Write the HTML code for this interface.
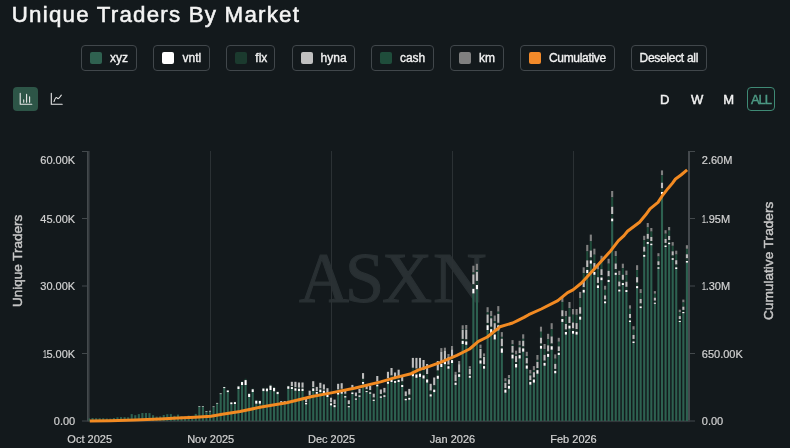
<!DOCTYPE html>
<html><head><meta charset="utf-8"><title>Unique Traders By Market</title>
<style>
html,body{margin:0;padding:0;background:#13191c;}
body{-webkit-font-smoothing:antialiased;width:790px;height:448px;position:relative;overflow:hidden;font-family:"Liberation Sans",sans-serif;color:#e6e6e6;}
.title{position:absolute;left:11.8px;top:0.6px;font-size:22.3px;line-height:28px;letter-spacing:1.22px;color:#f4f4f4;white-space:nowrap;-webkit-text-stroke:0.55px #f4f4f4;}
.lb{position:absolute;top:45.1px;height:25.6px;box-sizing:border-box;border:1px solid #41474b;border-radius:4px;}
.sw{position:absolute;top:52.2px;width:12px;height:12px;border-radius:2px;}
.lt{position:absolute;top:51px;font-size:12px;line-height:14px;color:#f2f2f2;white-space:nowrap;-webkit-text-stroke:0.35px #f2f2f2;}
.yl{position:absolute;left:0;width:75.2px;text-align:right;font-size:11px;line-height:14px;color:#d2d2d2;-webkit-text-stroke:0.2px #d2d2d2;}
.yr{position:absolute;left:701.8px;font-size:11px;line-height:14px;color:#d2d2d2;-webkit-text-stroke:0.2px #d2d2d2;}
.xl{position:absolute;top:432px;width:80px;text-align:center;font-size:11px;line-height:14px;color:#d2d2d2;white-space:nowrap;-webkit-text-stroke:0.2px #d2d2d2;}
.tf{position:absolute;top:92.5px;font-size:13px;line-height:14px;color:#f2f2f2;-webkit-text-stroke:0.45px currentColor;}
.wm{position:absolute;left:298.5px;top:237.6px;font-family:"Liberation Serif",serif;font-size:71px;line-height:80px;color:#293033;letter-spacing:-1.4px;-webkit-text-stroke:1.1px #293033;}
.at{position:absolute;font-size:13.35px;line-height:14px;color:#c6c6c6;white-space:nowrap;transform-origin:0 0;transform:rotate(-90deg);-webkit-text-stroke:0.45px #c6c6c6;}
svg{position:absolute;left:0;top:0;}
</style></head><body>
<div id="wrap" style="position:absolute;left:0;top:0;width:790px;height:448px;will-change:transform">
<div class="title">Unique Traders By Market</div>
<div class="lb" style="left:80.9px;width:56.3px"></div><div class="sw" style="left:90.2px;background:#2f6150"></div><div class="lt" style="left:110.0px;letter-spacing:0px">xyz</div><div class="lb" style="left:153.1px;width:56.5px"></div><div class="sw" style="left:161.8px;background:#ffffff"></div><div class="lt" style="left:182.6px;letter-spacing:0px">vntl</div><div class="lb" style="left:226.0px;width:49.4px"></div><div class="sw" style="left:235.3px;background:#1b3a2e"></div><div class="lt" style="left:255.3px;letter-spacing:0px">flx</div><div class="lb" style="left:291.9px;width:63.1px"></div><div class="sw" style="left:300.9px;background:#c0c0c0"></div><div class="lt" style="left:320.6px;letter-spacing:0px">hyna</div><div class="lb" style="left:370.9px;width:63.3px"></div><div class="sw" style="left:380.1px;background:#1f4d3b"></div><div class="lt" style="left:399.9px;letter-spacing:0px">cash</div><div class="lb" style="left:449.5px;width:54.7px"></div><div class="sw" style="left:459.4px;background:#808080"></div><div class="lt" style="left:479.0px;letter-spacing:0px">km</div><div class="lb" style="left:520.1px;width:95.1px"></div><div class="sw" style="left:528.7px;background:#f28a2a"></div><div class="lt" style="left:548.9px;letter-spacing:-0.3px">Cumulative</div><div class="lb" style="left:631.1px;width:76.0px"></div><div class="lt" style="left:639.6px;letter-spacing:-0.3px">Deselect all</div>
<div style="position:absolute;left:13px;top:87px;width:25px;height:24px;border-radius:4px;background:#2d5547"></div>
<div class="wm" style="left:0;letter-spacing:0"><span style="position:absolute;left:298.8px;top:0;transform-origin:0 50%;transform:scaleX(.975)">A</span><span style="position:absolute;left:345.2px;top:0;transform-origin:0 50%;transform:scaleX(.99)">S</span><span style="position:absolute;left:381.5px;top:0;transform-origin:0 50%;transform:scaleX(.978)">X</span><span style="position:absolute;left:433.2px;top:0;transform-origin:0 50%;transform:scaleX(1.047)">N</span></div>
<div class="tf" style="left:660px">D</div>
<div class="tf" style="left:691px">W</div>
<div class="tf" style="left:723.3px">M</div>
<div style="position:absolute;left:747px;top:87px;width:28px;height:23.5px;box-sizing:border-box;border:1px solid #3f8a75;border-radius:4px"></div>
<div class="tf" style="left:751px;color:#4c9883;letter-spacing:-1.1px">ALL</div>
<svg width="790" height="448" viewBox="0 0 790 448">
<!-- icons -->
<g fill="none" stroke="#e8e8e8" stroke-width="1.1" stroke-linecap="round" stroke-linejoin="round">
<path d="M20.2 93.2V104.3H31.8"/>
<path d="M23.7 99.9V102.2M26.6 94.4V102.2M29.6 96.9V102.2"/>
<path d="M51.3 93.2V104.3H62.2"/>
<path d="M54.0 101.5C54.7 99.6 55.4 97.5 56.3 97.5C57.2 97.5 57.5 98.9 58.3 98.6C59.5 98.1 60.4 96.2 61.3 95.1"/>
</g>
<rect x="210" y="151" width="1" height="270" fill="#2b3134"/><rect x="331" y="151" width="1" height="270" fill="#2b3134"/><rect x="452" y="151" width="1" height="270" fill="#2b3134"/><rect x="573" y="151" width="1" height="270" fill="#2b3134"/>
<rect x="87.1" y="151" width="1.6" height="270.3" fill="#4a4f53"/><rect x="88.7" y="151" width="0.9" height="269.5" fill="#363c3f"/>
<rect x="688" y="151" width="2" height="271" fill="#44494d"/>
<rect x="88" y="420.3" width="602" height="1.8" fill="#32383b"/>
<rect x="82" y="151.0" width="6" height="1" fill="#43494c"/><rect x="690" y="151.0" width="5" height="1" fill="#43494c"/><rect x="82" y="218.0" width="6" height="1" fill="#43494c"/><rect x="690" y="218.0" width="5" height="1" fill="#43494c"/><rect x="82" y="285.5" width="6" height="1" fill="#43494c"/><rect x="690" y="285.5" width="5" height="1" fill="#43494c"/><rect x="82" y="353.0" width="6" height="1" fill="#43494c"/><rect x="690" y="353.0" width="5" height="1" fill="#43494c"/><rect x="82" y="420.5" width="6" height="1" fill="#43494c"/><rect x="690" y="420.5" width="5" height="1" fill="#43494c"/>
<g shape-rendering="auto">
<rect x="88.60" y="418.40" width="1.45" height="2.60" fill="#2d6150"/><rect x="91.51" y="418.00" width="2.10" height="3.00" fill="#2d6150"/><rect x="95.07" y="418.20" width="2.10" height="2.80" fill="#2d6150"/><rect x="98.63" y="418.20" width="2.10" height="2.80" fill="#2d6150"/><rect x="102.19" y="418.20" width="2.10" height="2.80" fill="#2d6150"/><rect x="105.75" y="418.50" width="2.10" height="2.50" fill="#2d6150"/><rect x="109.30" y="418.60" width="2.10" height="2.40" fill="#2d6150"/><rect x="112.86" y="418.00" width="2.10" height="3.00" fill="#2d6150"/><rect x="116.42" y="417.30" width="2.10" height="3.70" fill="#2d6150"/><rect x="119.98" y="417.10" width="2.10" height="3.90" fill="#2d6150"/><rect x="123.54" y="417.10" width="2.10" height="3.90" fill="#2d6150"/><rect x="127.10" y="417.30" width="2.10" height="3.70" fill="#2d6150"/><rect x="130.66" y="414.10" width="2.10" height="6.90" fill="#2d6150"/><rect x="134.22" y="415.20" width="2.10" height="5.80" fill="#2d6150"/><rect x="137.78" y="414.10" width="2.10" height="6.90" fill="#2d6150"/><rect x="141.33" y="413.00" width="2.10" height="8.00" fill="#2d6150"/><rect x="144.89" y="413.00" width="2.10" height="8.00" fill="#2d6150"/><rect x="148.45" y="413.10" width="2.10" height="7.90" fill="#2d6150"/><rect x="152.01" y="415.20" width="2.10" height="5.80" fill="#2d6150"/><rect x="155.57" y="416.60" width="2.10" height="4.40" fill="#2d6150"/><rect x="159.13" y="416.40" width="2.10" height="4.60" fill="#2d6150"/><rect x="162.69" y="415.00" width="2.10" height="6.00" fill="#2d6150"/><rect x="166.25" y="414.20" width="2.10" height="6.80" fill="#2d6150"/><rect x="169.81" y="414.10" width="2.10" height="6.90" fill="#2d6150"/><rect x="173.37" y="415.80" width="2.10" height="5.20" fill="#2d6150"/><rect x="176.93" y="414.60" width="2.10" height="6.40" fill="#2d6150"/><rect x="180.48" y="416.20" width="2.10" height="4.80" fill="#2d6150"/><rect x="184.04" y="416.60" width="2.10" height="4.40" fill="#2d6150"/><rect x="187.60" y="415.60" width="2.10" height="5.40" fill="#2d6150"/><rect x="191.16" y="416.20" width="2.10" height="4.80" fill="#2d6150"/><rect x="194.72" y="413.90" width="2.10" height="7.10" fill="#2d6150"/><rect x="198.28" y="406.90" width="2.10" height="14.10" fill="#2d6150"/><rect x="198.28" y="406.10" width="2.10" height="0.80" fill="#b4c2bb"/><rect x="201.84" y="406.90" width="2.10" height="14.10" fill="#2d6150"/><rect x="201.84" y="406.10" width="2.10" height="0.80" fill="#b4c2bb"/><rect x="205.40" y="411.90" width="2.10" height="9.10" fill="#2d6150"/><rect x="205.40" y="411.10" width="2.10" height="0.80" fill="#b4c2bb"/><rect x="208.96" y="411.60" width="2.10" height="9.40" fill="#2d6150"/><rect x="208.96" y="410.80" width="2.10" height="0.80" fill="#b4c2bb"/><rect x="212.51" y="407.10" width="2.10" height="13.90" fill="#2d6150"/><rect x="212.51" y="406.30" width="2.10" height="0.80" fill="#b4c2bb"/><rect x="216.07" y="403.80" width="2.10" height="17.20" fill="#2d6150"/><rect x="216.07" y="402.90" width="2.10" height="0.90" fill="#b4c2bb"/><rect x="219.63" y="394.20" width="2.10" height="26.80" fill="#2d6150"/><rect x="219.63" y="393.20" width="2.10" height="1.00" fill="#b4c2bb"/><rect x="223.19" y="388.10" width="2.10" height="32.90" fill="#2d6150"/><rect x="223.19" y="386.80" width="2.10" height="0.29" fill="#1a3a2e"/><rect x="223.19" y="387.09" width="2.10" height="1.01" fill="#ffffff"/><rect x="226.75" y="392.10" width="2.10" height="28.90" fill="#2d6150"/><rect x="226.75" y="390.00" width="2.10" height="0.46" fill="#1a3a2e"/><rect x="226.75" y="390.46" width="2.10" height="1.64" fill="#ffffff"/><rect x="230.31" y="404.20" width="2.10" height="16.80" fill="#2d6150"/><rect x="230.31" y="401.90" width="2.10" height="0.51" fill="#1a3a2e"/><rect x="230.31" y="402.41" width="2.10" height="1.79" fill="#ffffff"/><rect x="233.87" y="404.00" width="2.10" height="17.00" fill="#2d6150"/><rect x="233.87" y="401.60" width="2.10" height="0.53" fill="#1a3a2e"/><rect x="233.87" y="402.13" width="2.10" height="1.87" fill="#ffffff"/><rect x="237.43" y="389.00" width="2.10" height="32.00" fill="#2d6150"/><rect x="237.43" y="385.70" width="2.10" height="0.73" fill="#1a3a2e"/><rect x="237.43" y="386.43" width="2.10" height="2.57" fill="#ffffff"/><rect x="240.99" y="385.00" width="2.10" height="36.00" fill="#2d6150"/><rect x="240.99" y="381.20" width="2.10" height="0.84" fill="#1a3a2e"/><rect x="240.99" y="382.04" width="2.10" height="2.96" fill="#ffffff"/><rect x="244.55" y="385.00" width="2.10" height="36.00" fill="#2d6150"/><rect x="244.55" y="378.70" width="2.10" height="1.39" fill="#1a3a2e"/><rect x="244.55" y="380.09" width="2.10" height="4.91" fill="#ffffff"/><rect x="248.10" y="397.00" width="2.10" height="24.00" fill="#2d6150"/><rect x="248.10" y="393.00" width="2.10" height="0.88" fill="#1a3a2e"/><rect x="248.10" y="393.88" width="2.10" height="3.12" fill="#ffffff"/><rect x="251.66" y="392.00" width="2.10" height="29.00" fill="#2d6150"/><rect x="251.66" y="388.50" width="2.10" height="0.77" fill="#1a3a2e"/><rect x="251.66" y="389.27" width="2.10" height="2.73" fill="#ffffff"/><rect x="255.22" y="403.70" width="2.10" height="17.30" fill="#2d6150"/><rect x="255.22" y="399.90" width="2.10" height="0.84" fill="#1a3a2e"/><rect x="255.22" y="400.74" width="2.10" height="2.96" fill="#ffffff"/><rect x="258.78" y="403.70" width="2.10" height="17.30" fill="#2d6150"/><rect x="258.78" y="400.20" width="2.10" height="0.77" fill="#1a3a2e"/><rect x="258.78" y="400.97" width="2.10" height="2.73" fill="#ffffff"/><rect x="262.34" y="391.10" width="2.10" height="29.90" fill="#2d6150"/><rect x="262.34" y="387.80" width="2.10" height="0.73" fill="#1a3a2e"/><rect x="262.34" y="388.53" width="2.10" height="2.57" fill="#ffffff"/><rect x="265.90" y="391.30" width="2.10" height="29.70" fill="#2d6150"/><rect x="265.90" y="387.80" width="2.10" height="0.77" fill="#1a3a2e"/><rect x="265.90" y="388.57" width="2.10" height="2.73" fill="#ffffff"/><rect x="269.46" y="390.00" width="2.10" height="31.00" fill="#2d6150"/><rect x="269.46" y="384.40" width="2.10" height="1.23" fill="#1a3a2e"/><rect x="269.46" y="385.63" width="2.10" height="4.37" fill="#ffffff"/><rect x="273.02" y="391.30" width="2.10" height="29.70" fill="#2d6150"/><rect x="273.02" y="386.90" width="2.10" height="0.97" fill="#1a3a2e"/><rect x="273.02" y="387.87" width="2.10" height="3.43" fill="#ffffff"/><rect x="276.58" y="394.10" width="2.10" height="26.90" fill="#2d6150"/><rect x="276.58" y="391.30" width="2.10" height="0.62" fill="#1a3a2e"/><rect x="276.58" y="391.92" width="2.10" height="2.18" fill="#ffffff"/><rect x="280.14" y="402.50" width="2.10" height="18.50" fill="#2d6150"/><rect x="280.14" y="401.00" width="2.10" height="0.33" fill="#1a3a2e"/><rect x="280.14" y="401.33" width="2.10" height="1.17" fill="#ffffff"/><rect x="283.69" y="402.50" width="2.10" height="18.50" fill="#2d6150"/><rect x="283.69" y="401.00" width="2.10" height="0.33" fill="#1a3a2e"/><rect x="283.69" y="401.33" width="2.10" height="1.17" fill="#ffffff"/><rect x="287.25" y="388.80" width="2.10" height="32.20" fill="#2d6150"/><rect x="287.25" y="385.60" width="2.10" height="0.70" fill="#1a3a2e"/><rect x="287.25" y="386.30" width="2.10" height="2.50" fill="#ffffff"/><rect x="290.81" y="389.00" width="2.10" height="32.00" fill="#2d6150"/><rect x="290.81" y="381.80" width="2.10" height="4.46" fill="#bdbdbd"/><rect x="290.81" y="386.26" width="2.10" height="0.79" fill="#1a3a2e"/><rect x="290.81" y="387.06" width="2.10" height="1.94" fill="#ffffff"/><rect x="294.37" y="390.70" width="2.10" height="30.30" fill="#2d6150"/><rect x="294.37" y="381.80" width="2.10" height="5.52" fill="#bdbdbd"/><rect x="294.37" y="387.32" width="2.10" height="0.98" fill="#1a3a2e"/><rect x="294.37" y="388.30" width="2.10" height="2.40" fill="#ffffff"/><rect x="297.93" y="391.00" width="2.10" height="30.00" fill="#2d6150"/><rect x="297.93" y="382.50" width="2.10" height="5.27" fill="#bdbdbd"/><rect x="297.93" y="387.77" width="2.10" height="0.94" fill="#1a3a2e"/><rect x="297.93" y="388.70" width="2.10" height="2.29" fill="#ffffff"/><rect x="301.49" y="391.00" width="2.10" height="30.00" fill="#2d6150"/><rect x="301.49" y="382.50" width="2.10" height="5.27" fill="#bdbdbd"/><rect x="301.49" y="387.77" width="2.10" height="0.94" fill="#1a3a2e"/><rect x="301.49" y="388.70" width="2.10" height="2.29" fill="#ffffff"/><rect x="305.05" y="404.40" width="2.10" height="16.60" fill="#2d6150"/><rect x="305.05" y="398.70" width="2.10" height="3.53" fill="#bdbdbd"/><rect x="305.05" y="402.23" width="2.10" height="0.63" fill="#1a3a2e"/><rect x="305.05" y="402.86" width="2.10" height="1.54" fill="#ffffff"/><rect x="308.61" y="397.60" width="2.10" height="23.40" fill="#2d6150"/><rect x="308.61" y="390.70" width="2.10" height="4.28" fill="#bdbdbd"/><rect x="308.61" y="394.98" width="2.10" height="0.76" fill="#1a3a2e"/><rect x="308.61" y="395.74" width="2.10" height="1.86" fill="#ffffff"/><rect x="312.17" y="391.00" width="2.10" height="30.00" fill="#2d6150"/><rect x="312.17" y="381.20" width="2.10" height="6.08" fill="#bdbdbd"/><rect x="312.17" y="387.28" width="2.10" height="1.08" fill="#1a3a2e"/><rect x="312.17" y="388.35" width="2.10" height="2.65" fill="#ffffff"/><rect x="315.73" y="393.80" width="2.10" height="27.20" fill="#2d6150"/><rect x="315.73" y="386.90" width="2.10" height="4.28" fill="#bdbdbd"/><rect x="315.73" y="391.18" width="2.10" height="0.76" fill="#1a3a2e"/><rect x="315.73" y="391.94" width="2.10" height="1.86" fill="#ffffff"/><rect x="319.29" y="392.00" width="2.10" height="29.00" fill="#2d6150"/><rect x="319.29" y="382.80" width="2.10" height="5.70" fill="#bdbdbd"/><rect x="319.29" y="388.50" width="2.10" height="1.01" fill="#1a3a2e"/><rect x="319.29" y="389.52" width="2.10" height="2.48" fill="#ffffff"/><rect x="322.84" y="393.00" width="2.10" height="28.00" fill="#2d6150"/><rect x="322.84" y="384.40" width="2.10" height="5.33" fill="#bdbdbd"/><rect x="322.84" y="389.73" width="2.10" height="0.95" fill="#1a3a2e"/><rect x="322.84" y="390.68" width="2.10" height="2.32" fill="#ffffff"/><rect x="326.40" y="397.00" width="2.10" height="24.00" fill="#2d6150"/><rect x="326.40" y="388.20" width="2.10" height="5.46" fill="#bdbdbd"/><rect x="326.40" y="393.66" width="2.10" height="0.97" fill="#1a3a2e"/><rect x="326.40" y="394.62" width="2.10" height="2.38" fill="#ffffff"/><rect x="329.96" y="405.40" width="2.10" height="15.60" fill="#2d6150"/><rect x="329.96" y="397.70" width="2.10" height="4.77" fill="#bdbdbd"/><rect x="329.96" y="402.47" width="2.10" height="0.85" fill="#1a3a2e"/><rect x="329.96" y="403.32" width="2.10" height="2.08" fill="#ffffff"/><rect x="333.52" y="407.20" width="2.10" height="13.80" fill="#2d6150"/><rect x="333.52" y="399.60" width="2.10" height="4.71" fill="#bdbdbd"/><rect x="333.52" y="404.31" width="2.10" height="0.84" fill="#1a3a2e"/><rect x="333.52" y="405.15" width="2.10" height="2.05" fill="#ffffff"/><rect x="337.08" y="394.60" width="2.10" height="26.40" fill="#2d6150"/><rect x="337.08" y="383.80" width="2.10" height="5.83" fill="#bdbdbd"/><rect x="337.08" y="389.63" width="2.10" height="3.13" fill="#1a3a2e"/><rect x="337.08" y="392.76" width="2.10" height="1.84" fill="#ffffff"/><rect x="340.64" y="393.70" width="2.10" height="27.30" fill="#2d6150"/><rect x="340.64" y="383.20" width="2.10" height="5.67" fill="#bdbdbd"/><rect x="340.64" y="388.87" width="2.10" height="3.04" fill="#1a3a2e"/><rect x="340.64" y="391.92" width="2.10" height="1.79" fill="#ffffff"/><rect x="344.20" y="397.50" width="2.10" height="23.50" fill="#2d6150"/><rect x="344.20" y="389.50" width="2.10" height="4.32" fill="#bdbdbd"/><rect x="344.20" y="393.82" width="2.10" height="2.32" fill="#1a3a2e"/><rect x="344.20" y="396.14" width="2.10" height="1.36" fill="#ffffff"/><rect x="347.76" y="407.30" width="2.10" height="13.70" fill="#2d6150"/><rect x="347.76" y="400.30" width="2.10" height="3.78" fill="#bdbdbd"/><rect x="347.76" y="404.08" width="2.10" height="2.03" fill="#1a3a2e"/><rect x="347.76" y="406.11" width="2.10" height="1.19" fill="#ffffff"/><rect x="351.32" y="394.00" width="2.10" height="27.00" fill="#2d6150"/><rect x="351.32" y="384.90" width="2.10" height="4.91" fill="#bdbdbd"/><rect x="351.32" y="389.81" width="2.10" height="2.64" fill="#1a3a2e"/><rect x="351.32" y="392.45" width="2.10" height="1.55" fill="#ffffff"/><rect x="354.88" y="399.70" width="2.10" height="21.30" fill="#2d6150"/><rect x="354.88" y="392.50" width="2.10" height="3.89" fill="#bdbdbd"/><rect x="354.88" y="396.39" width="2.10" height="2.09" fill="#1a3a2e"/><rect x="354.88" y="398.48" width="2.10" height="1.22" fill="#ffffff"/><rect x="358.43" y="396.80" width="2.10" height="24.20" fill="#2d6150"/><rect x="358.43" y="388.90" width="2.10" height="4.27" fill="#bdbdbd"/><rect x="358.43" y="393.17" width="2.10" height="2.29" fill="#1a3a2e"/><rect x="358.43" y="395.46" width="2.10" height="1.34" fill="#ffffff"/><rect x="361.99" y="383.80" width="2.10" height="37.20" fill="#2d6150"/><rect x="361.99" y="373.10" width="2.10" height="5.78" fill="#bdbdbd"/><rect x="361.99" y="378.88" width="2.10" height="3.10" fill="#1a3a2e"/><rect x="361.99" y="381.98" width="2.10" height="1.82" fill="#ffffff"/><rect x="365.55" y="392.10" width="2.10" height="28.90" fill="#2d6150"/><rect x="365.55" y="386.00" width="2.10" height="3.29" fill="#bdbdbd"/><rect x="365.55" y="389.29" width="2.10" height="1.77" fill="#1a3a2e"/><rect x="365.55" y="391.06" width="2.10" height="1.04" fill="#ffffff"/><rect x="369.11" y="393.70" width="2.10" height="27.30" fill="#2d6150"/><rect x="369.11" y="386.00" width="2.10" height="4.16" fill="#bdbdbd"/><rect x="369.11" y="390.16" width="2.10" height="2.23" fill="#1a3a2e"/><rect x="369.11" y="392.39" width="2.10" height="1.31" fill="#ffffff"/><rect x="372.67" y="400.90" width="2.10" height="20.10" fill="#2d6150"/><rect x="372.67" y="393.70" width="2.10" height="3.89" fill="#bdbdbd"/><rect x="372.67" y="397.59" width="2.10" height="2.09" fill="#1a3a2e"/><rect x="372.67" y="399.68" width="2.10" height="1.22" fill="#ffffff"/><rect x="376.23" y="386.40" width="2.10" height="34.60" fill="#2d6150"/><rect x="376.23" y="376.00" width="2.10" height="5.62" fill="#bdbdbd"/><rect x="376.23" y="381.62" width="2.10" height="3.02" fill="#1a3a2e"/><rect x="376.23" y="384.63" width="2.10" height="1.77" fill="#ffffff"/><rect x="379.79" y="397.80" width="2.10" height="23.20" fill="#2d6150"/><rect x="379.79" y="389.50" width="2.10" height="4.48" fill="#bdbdbd"/><rect x="379.79" y="393.98" width="2.10" height="2.41" fill="#1a3a2e"/><rect x="379.79" y="396.39" width="2.10" height="1.41" fill="#ffffff"/><rect x="383.35" y="396.80" width="2.10" height="24.20" fill="#2d6150"/><rect x="383.35" y="387.90" width="2.10" height="4.81" fill="#bdbdbd"/><rect x="383.35" y="392.71" width="2.10" height="2.58" fill="#1a3a2e"/><rect x="383.35" y="395.29" width="2.10" height="1.51" fill="#ffffff"/><rect x="386.91" y="383.80" width="2.10" height="37.20" fill="#2d6150"/><rect x="386.91" y="371.80" width="2.10" height="6.48" fill="#bdbdbd"/><rect x="386.91" y="378.28" width="2.10" height="3.48" fill="#1a3a2e"/><rect x="386.91" y="381.76" width="2.10" height="2.04" fill="#ffffff"/><rect x="390.46" y="382.00" width="2.10" height="39.00" fill="#2d6150"/><rect x="390.46" y="368.00" width="2.10" height="7.56" fill="#bdbdbd"/><rect x="390.46" y="375.56" width="2.10" height="4.06" fill="#1a3a2e"/><rect x="390.46" y="379.62" width="2.10" height="2.38" fill="#ffffff"/><rect x="394.02" y="382.80" width="2.10" height="38.20" fill="#2d6150"/><rect x="394.02" y="372.50" width="2.10" height="5.56" fill="#bdbdbd"/><rect x="394.02" y="378.06" width="2.10" height="2.99" fill="#1a3a2e"/><rect x="394.02" y="381.05" width="2.10" height="1.75" fill="#ffffff"/><rect x="397.58" y="382.00" width="2.10" height="39.00" fill="#2d6150"/><rect x="397.58" y="369.70" width="2.10" height="6.64" fill="#bdbdbd"/><rect x="397.58" y="376.34" width="2.10" height="3.57" fill="#1a3a2e"/><rect x="397.58" y="379.91" width="2.10" height="2.09" fill="#ffffff"/><rect x="401.14" y="387.00" width="2.10" height="34.00" fill="#2d6150"/><rect x="401.14" y="375.00" width="2.10" height="6.48" fill="#bdbdbd"/><rect x="401.14" y="381.48" width="2.10" height="3.48" fill="#1a3a2e"/><rect x="401.14" y="384.96" width="2.10" height="2.04" fill="#ffffff"/><rect x="404.70" y="400.30" width="2.10" height="20.70" fill="#2d6150"/><rect x="404.70" y="391.40" width="2.10" height="4.81" fill="#bdbdbd"/><rect x="404.70" y="396.21" width="2.10" height="2.58" fill="#1a3a2e"/><rect x="404.70" y="398.79" width="2.10" height="1.51" fill="#ffffff"/><rect x="408.26" y="399.70" width="2.10" height="21.30" fill="#2d6150"/><rect x="408.26" y="388.90" width="2.10" height="5.83" fill="#bdbdbd"/><rect x="408.26" y="394.73" width="2.10" height="3.13" fill="#1a3a2e"/><rect x="408.26" y="397.86" width="2.10" height="1.84" fill="#ffffff"/><rect x="411.82" y="376.30" width="2.10" height="44.70" fill="#2d6150"/><rect x="411.82" y="357.90" width="2.10" height="9.94" fill="#bdbdbd"/><rect x="411.82" y="367.84" width="2.10" height="5.34" fill="#1a3a2e"/><rect x="411.82" y="373.17" width="2.10" height="3.13" fill="#ffffff"/><rect x="415.38" y="377.80" width="2.10" height="43.20" fill="#2d6150"/><rect x="415.38" y="357.90" width="2.10" height="10.75" fill="#bdbdbd"/><rect x="415.38" y="368.65" width="2.10" height="5.77" fill="#1a3a2e"/><rect x="415.38" y="374.42" width="2.10" height="3.38" fill="#ffffff"/><rect x="418.94" y="376.90" width="2.10" height="44.10" fill="#2d6150"/><rect x="418.94" y="357.90" width="2.10" height="10.26" fill="#bdbdbd"/><rect x="418.94" y="368.16" width="2.10" height="5.51" fill="#1a3a2e"/><rect x="418.94" y="373.67" width="2.10" height="3.23" fill="#ffffff"/><rect x="422.50" y="378.50" width="2.10" height="42.50" fill="#2d6150"/><rect x="422.50" y="360.00" width="2.10" height="9.99" fill="#bdbdbd"/><rect x="422.50" y="369.99" width="2.10" height="5.36" fill="#1a3a2e"/><rect x="422.50" y="375.36" width="2.10" height="3.15" fill="#ffffff"/><rect x="426.06" y="382.60" width="2.10" height="38.40" fill="#2d6150"/><rect x="426.06" y="364.00" width="2.10" height="10.04" fill="#bdbdbd"/><rect x="426.06" y="374.04" width="2.10" height="5.39" fill="#1a3a2e"/><rect x="426.06" y="379.44" width="2.10" height="3.16" fill="#ffffff"/><rect x="429.61" y="396.50" width="2.10" height="24.50" fill="#2d6150"/><rect x="429.61" y="383.80" width="2.10" height="6.86" fill="#bdbdbd"/><rect x="429.61" y="390.66" width="2.10" height="3.68" fill="#1a3a2e"/><rect x="429.61" y="394.34" width="2.10" height="2.16" fill="#ffffff"/><rect x="433.17" y="392.10" width="2.10" height="28.90" fill="#2d6150"/><rect x="433.17" y="377.50" width="2.10" height="7.88" fill="#bdbdbd"/><rect x="433.17" y="385.38" width="2.10" height="4.23" fill="#1a3a2e"/><rect x="433.17" y="389.62" width="2.10" height="2.48" fill="#ffffff"/><rect x="436.73" y="378.80" width="2.10" height="42.20" fill="#2d6150"/><rect x="436.73" y="361.00" width="2.10" height="9.61" fill="#bdbdbd"/><rect x="436.73" y="370.61" width="2.10" height="5.16" fill="#1a3a2e"/><rect x="436.73" y="375.77" width="2.10" height="3.03" fill="#ffffff"/><rect x="440.29" y="367.00" width="2.10" height="54.00" fill="#2d6150"/><rect x="440.29" y="348.10" width="2.10" height="3.78" fill="#808080"/><rect x="440.29" y="351.88" width="2.10" height="10.02" fill="#bdbdbd"/><rect x="440.29" y="361.90" width="2.10" height="1.89" fill="#1a3a2e"/><rect x="440.29" y="363.79" width="2.10" height="3.21" fill="#ffffff"/><rect x="443.85" y="364.20" width="2.10" height="56.80" fill="#2d6150"/><rect x="443.85" y="347.70" width="2.10" height="3.30" fill="#808080"/><rect x="443.85" y="351.00" width="2.10" height="8.75" fill="#bdbdbd"/><rect x="443.85" y="359.75" width="2.10" height="1.65" fill="#1a3a2e"/><rect x="443.85" y="361.39" width="2.10" height="2.81" fill="#ffffff"/><rect x="447.41" y="368.70" width="2.10" height="52.30" fill="#2d6150"/><rect x="447.41" y="354.00" width="2.10" height="2.94" fill="#808080"/><rect x="447.41" y="356.94" width="2.10" height="7.79" fill="#bdbdbd"/><rect x="447.41" y="364.73" width="2.10" height="1.47" fill="#1a3a2e"/><rect x="447.41" y="366.20" width="2.10" height="2.50" fill="#ffffff"/><rect x="450.97" y="363.00" width="2.10" height="58.00" fill="#2d6150"/><rect x="450.97" y="346.00" width="2.10" height="3.40" fill="#808080"/><rect x="450.97" y="349.40" width="2.10" height="9.01" fill="#bdbdbd"/><rect x="450.97" y="358.41" width="2.10" height="1.70" fill="#1a3a2e"/><rect x="450.97" y="360.11" width="2.10" height="2.89" fill="#ffffff"/><rect x="454.53" y="384.90" width="2.10" height="36.10" fill="#2d6150"/><rect x="454.53" y="371.80" width="2.10" height="2.62" fill="#808080"/><rect x="454.53" y="374.42" width="2.10" height="6.94" fill="#bdbdbd"/><rect x="454.53" y="381.36" width="2.10" height="1.31" fill="#1a3a2e"/><rect x="454.53" y="382.67" width="2.10" height="2.23" fill="#ffffff"/><rect x="458.09" y="376.90" width="2.10" height="44.10" fill="#2d6150"/><rect x="458.09" y="361.00" width="2.10" height="3.18" fill="#808080"/><rect x="458.09" y="364.18" width="2.10" height="8.43" fill="#bdbdbd"/><rect x="458.09" y="372.61" width="2.10" height="1.59" fill="#1a3a2e"/><rect x="458.09" y="374.20" width="2.10" height="2.70" fill="#ffffff"/><rect x="461.64" y="344.00" width="2.10" height="77.00" fill="#2d6150"/><rect x="461.64" y="325.30" width="2.10" height="3.74" fill="#808080"/><rect x="461.64" y="329.04" width="2.10" height="0.56" fill="#1f4b3a"/><rect x="461.64" y="329.60" width="2.10" height="9.35" fill="#bdbdbd"/><rect x="461.64" y="338.95" width="2.10" height="1.87" fill="#1a3a2e"/><rect x="461.64" y="340.82" width="2.10" height="3.18" fill="#ffffff"/><rect x="465.20" y="344.80" width="2.10" height="76.20" fill="#2d6150"/><rect x="465.20" y="325.00" width="2.10" height="3.96" fill="#808080"/><rect x="465.20" y="328.96" width="2.10" height="0.59" fill="#1f4b3a"/><rect x="465.20" y="329.55" width="2.10" height="9.90" fill="#bdbdbd"/><rect x="465.20" y="339.45" width="2.10" height="1.98" fill="#1a3a2e"/><rect x="465.20" y="341.43" width="2.10" height="3.37" fill="#ffffff"/><rect x="468.76" y="377.80" width="2.10" height="43.20" fill="#2d6150"/><rect x="468.76" y="366.10" width="2.10" height="2.34" fill="#808080"/><rect x="468.76" y="368.44" width="2.10" height="0.35" fill="#1f4b3a"/><rect x="468.76" y="368.79" width="2.10" height="5.85" fill="#bdbdbd"/><rect x="468.76" y="374.64" width="2.10" height="1.17" fill="#1a3a2e"/><rect x="468.76" y="375.81" width="2.10" height="1.99" fill="#ffffff"/><rect x="472.32" y="293.40" width="2.10" height="127.60" fill="#2d6150"/><rect x="472.32" y="265.70" width="2.10" height="6.79" fill="#808080"/><rect x="472.32" y="272.49" width="2.10" height="1.94" fill="#1f4b3a"/><rect x="472.32" y="274.43" width="2.10" height="9.97" fill="#bdbdbd"/><rect x="472.32" y="284.40" width="2.10" height="4.43" fill="#1a3a2e"/><rect x="472.32" y="288.83" width="2.10" height="4.57" fill="#ffffff"/><rect x="475.88" y="289.20" width="2.10" height="131.80" fill="#2d6150"/><rect x="475.88" y="263.80" width="2.10" height="6.22" fill="#808080"/><rect x="475.88" y="270.02" width="2.10" height="1.78" fill="#1f4b3a"/><rect x="475.88" y="271.80" width="2.10" height="9.14" fill="#bdbdbd"/><rect x="475.88" y="280.95" width="2.10" height="4.06" fill="#1a3a2e"/><rect x="475.88" y="285.01" width="2.10" height="4.19" fill="#ffffff"/><rect x="479.44" y="363.60" width="2.10" height="57.40" fill="#2d6150"/><rect x="479.44" y="344.60" width="2.10" height="3.80" fill="#808080"/><rect x="479.44" y="348.40" width="2.10" height="0.57" fill="#1f4b3a"/><rect x="479.44" y="348.97" width="2.10" height="9.50" fill="#bdbdbd"/><rect x="479.44" y="358.47" width="2.10" height="1.90" fill="#1a3a2e"/><rect x="479.44" y="360.37" width="2.10" height="3.23" fill="#ffffff"/><rect x="483.00" y="368.70" width="2.10" height="52.30" fill="#2d6150"/><rect x="483.00" y="353.40" width="2.10" height="3.06" fill="#808080"/><rect x="483.00" y="356.46" width="2.10" height="0.46" fill="#1f4b3a"/><rect x="483.00" y="356.92" width="2.10" height="7.65" fill="#bdbdbd"/><rect x="483.00" y="364.57" width="2.10" height="1.53" fill="#1a3a2e"/><rect x="483.00" y="366.10" width="2.10" height="2.60" fill="#ffffff"/><rect x="486.56" y="330.00" width="2.10" height="91.00" fill="#2d6150"/><rect x="486.56" y="307.20" width="2.10" height="5.24" fill="#808080"/><rect x="486.56" y="312.44" width="2.10" height="2.05" fill="#1f4b3a"/><rect x="486.56" y="314.50" width="2.10" height="8.44" fill="#bdbdbd"/><rect x="486.56" y="322.93" width="2.10" height="2.28" fill="#1a3a2e"/><rect x="486.56" y="325.21" width="2.10" height="4.79" fill="#ffffff"/><rect x="490.12" y="334.00" width="2.10" height="87.00" fill="#2d6150"/><rect x="490.12" y="310.90" width="2.10" height="5.31" fill="#808080"/><rect x="490.12" y="316.21" width="2.10" height="2.08" fill="#1f4b3a"/><rect x="490.12" y="318.29" width="2.10" height="8.55" fill="#bdbdbd"/><rect x="490.12" y="326.84" width="2.10" height="2.31" fill="#1a3a2e"/><rect x="490.12" y="329.15" width="2.10" height="4.85" fill="#ffffff"/><rect x="493.68" y="339.50" width="2.10" height="81.50" fill="#2d6150"/><rect x="493.68" y="315.50" width="2.10" height="5.52" fill="#808080"/><rect x="493.68" y="321.02" width="2.10" height="2.16" fill="#1f4b3a"/><rect x="493.68" y="323.18" width="2.10" height="8.88" fill="#bdbdbd"/><rect x="493.68" y="332.06" width="2.10" height="2.40" fill="#1a3a2e"/><rect x="493.68" y="334.46" width="2.10" height="5.04" fill="#ffffff"/><rect x="497.24" y="330.40" width="2.10" height="90.60" fill="#2d6150"/><rect x="497.24" y="306.10" width="2.10" height="5.59" fill="#808080"/><rect x="497.24" y="311.69" width="2.10" height="2.19" fill="#1f4b3a"/><rect x="497.24" y="313.88" width="2.10" height="8.99" fill="#bdbdbd"/><rect x="497.24" y="322.87" width="2.10" height="2.43" fill="#1a3a2e"/><rect x="497.24" y="325.30" width="2.10" height="5.10" fill="#ffffff"/><rect x="500.79" y="352.80" width="2.10" height="68.20" fill="#2d6150"/><rect x="500.79" y="332.10" width="2.10" height="4.76" fill="#808080"/><rect x="500.79" y="336.86" width="2.10" height="1.86" fill="#1f4b3a"/><rect x="500.79" y="338.72" width="2.10" height="7.66" fill="#bdbdbd"/><rect x="500.79" y="346.38" width="2.10" height="2.07" fill="#1a3a2e"/><rect x="500.79" y="348.45" width="2.10" height="4.35" fill="#ffffff"/><rect x="504.35" y="392.70" width="2.10" height="28.30" fill="#2d6150"/><rect x="504.35" y="378.20" width="2.10" height="3.33" fill="#808080"/><rect x="504.35" y="381.53" width="2.10" height="1.30" fill="#1f4b3a"/><rect x="504.35" y="382.84" width="2.10" height="5.37" fill="#bdbdbd"/><rect x="504.35" y="388.20" width="2.10" height="1.45" fill="#1a3a2e"/><rect x="504.35" y="389.65" width="2.10" height="3.04" fill="#ffffff"/><rect x="507.91" y="388.70" width="2.10" height="32.30" fill="#2d6150"/><rect x="507.91" y="375.00" width="2.10" height="3.15" fill="#808080"/><rect x="507.91" y="378.15" width="2.10" height="1.23" fill="#1f4b3a"/><rect x="507.91" y="379.38" width="2.10" height="5.07" fill="#bdbdbd"/><rect x="507.91" y="384.45" width="2.10" height="1.37" fill="#1a3a2e"/><rect x="507.91" y="385.82" width="2.10" height="2.88" fill="#ffffff"/><rect x="511.47" y="358.50" width="2.10" height="62.50" fill="#2d6150"/><rect x="511.47" y="340.10" width="2.10" height="4.23" fill="#808080"/><rect x="511.47" y="344.33" width="2.10" height="1.66" fill="#1f4b3a"/><rect x="511.47" y="345.99" width="2.10" height="6.81" fill="#bdbdbd"/><rect x="511.47" y="352.80" width="2.10" height="1.84" fill="#1a3a2e"/><rect x="511.47" y="354.64" width="2.10" height="3.86" fill="#ffffff"/><rect x="515.03" y="367.50" width="2.10" height="53.50" fill="#2d6150"/><rect x="515.03" y="350.70" width="2.10" height="3.86" fill="#808080"/><rect x="515.03" y="354.56" width="2.10" height="1.51" fill="#1f4b3a"/><rect x="515.03" y="356.08" width="2.10" height="6.22" fill="#bdbdbd"/><rect x="515.03" y="362.29" width="2.10" height="1.68" fill="#1a3a2e"/><rect x="515.03" y="363.97" width="2.10" height="3.53" fill="#ffffff"/><rect x="518.59" y="358.50" width="2.10" height="62.50" fill="#2d6150"/><rect x="518.59" y="340.80" width="2.10" height="4.60" fill="#808080"/><rect x="518.59" y="345.40" width="2.10" height="1.95" fill="#1f4b3a"/><rect x="518.59" y="347.35" width="2.10" height="5.84" fill="#bdbdbd"/><rect x="518.59" y="353.19" width="2.10" height="1.95" fill="#1a3a2e"/><rect x="518.59" y="355.14" width="2.10" height="3.36" fill="#ffffff"/><rect x="522.15" y="351.70" width="2.10" height="69.30" fill="#2d6150"/><rect x="522.15" y="334.30" width="2.10" height="4.52" fill="#808080"/><rect x="522.15" y="338.82" width="2.10" height="1.91" fill="#1f4b3a"/><rect x="522.15" y="340.74" width="2.10" height="5.74" fill="#bdbdbd"/><rect x="522.15" y="346.48" width="2.10" height="1.91" fill="#1a3a2e"/><rect x="522.15" y="348.39" width="2.10" height="3.31" fill="#ffffff"/><rect x="525.71" y="368.70" width="2.10" height="52.30" fill="#2d6150"/><rect x="525.71" y="351.80" width="2.10" height="4.39" fill="#808080"/><rect x="525.71" y="356.19" width="2.10" height="1.86" fill="#1f4b3a"/><rect x="525.71" y="358.05" width="2.10" height="5.58" fill="#bdbdbd"/><rect x="525.71" y="363.63" width="2.10" height="1.86" fill="#1a3a2e"/><rect x="525.71" y="365.49" width="2.10" height="3.21" fill="#ffffff"/><rect x="529.27" y="384.70" width="2.10" height="36.30" fill="#2d6150"/><rect x="529.27" y="369.90" width="2.10" height="3.85" fill="#808080"/><rect x="529.27" y="373.75" width="2.10" height="1.63" fill="#1f4b3a"/><rect x="529.27" y="375.38" width="2.10" height="4.88" fill="#bdbdbd"/><rect x="529.27" y="380.26" width="2.10" height="1.63" fill="#1a3a2e"/><rect x="529.27" y="381.89" width="2.10" height="2.81" fill="#ffffff"/><rect x="532.83" y="382.60" width="2.10" height="38.40" fill="#2d6150"/><rect x="532.83" y="366.10" width="2.10" height="4.29" fill="#808080"/><rect x="532.83" y="370.39" width="2.10" height="1.81" fill="#1f4b3a"/><rect x="532.83" y="372.21" width="2.10" height="5.45" fill="#bdbdbd"/><rect x="532.83" y="377.65" width="2.10" height="1.81" fill="#1a3a2e"/><rect x="532.83" y="379.47" width="2.10" height="3.14" fill="#ffffff"/><rect x="536.38" y="373.70" width="2.10" height="47.30" fill="#2d6150"/><rect x="536.38" y="355.00" width="2.10" height="4.86" fill="#808080"/><rect x="536.38" y="359.86" width="2.10" height="2.06" fill="#1f4b3a"/><rect x="536.38" y="361.92" width="2.10" height="6.17" fill="#bdbdbd"/><rect x="536.38" y="368.09" width="2.10" height="2.06" fill="#1a3a2e"/><rect x="536.38" y="370.15" width="2.10" height="3.55" fill="#ffffff"/><rect x="539.94" y="348.70" width="2.10" height="72.30" fill="#2d6150"/><rect x="539.94" y="326.70" width="2.10" height="5.06" fill="#808080"/><rect x="539.94" y="331.76" width="2.10" height="5.94" fill="#1f4b3a"/><rect x="539.94" y="337.70" width="2.10" height="5.94" fill="#bdbdbd"/><rect x="539.94" y="343.64" width="2.10" height="2.20" fill="#1a3a2e"/><rect x="539.94" y="345.84" width="2.10" height="2.86" fill="#ffffff"/><rect x="543.50" y="365.70" width="2.10" height="55.30" fill="#2d6150"/><rect x="543.50" y="344.00" width="2.10" height="4.99" fill="#808080"/><rect x="543.50" y="348.99" width="2.10" height="5.86" fill="#1f4b3a"/><rect x="543.50" y="354.85" width="2.10" height="5.86" fill="#bdbdbd"/><rect x="543.50" y="360.71" width="2.10" height="2.17" fill="#1a3a2e"/><rect x="543.50" y="362.88" width="2.10" height="2.82" fill="#ffffff"/><rect x="547.06" y="356.90" width="2.10" height="64.10" fill="#2d6150"/><rect x="547.06" y="333.80" width="2.10" height="5.31" fill="#808080"/><rect x="547.06" y="339.11" width="2.10" height="6.24" fill="#1f4b3a"/><rect x="547.06" y="345.35" width="2.10" height="6.24" fill="#bdbdbd"/><rect x="547.06" y="351.59" width="2.10" height="2.31" fill="#1a3a2e"/><rect x="547.06" y="353.90" width="2.10" height="3.00" fill="#ffffff"/><rect x="550.62" y="349.70" width="2.10" height="71.30" fill="#2d6150"/><rect x="550.62" y="323.20" width="2.10" height="6.10" fill="#808080"/><rect x="550.62" y="329.30" width="2.10" height="7.16" fill="#1f4b3a"/><rect x="550.62" y="336.45" width="2.10" height="7.16" fill="#bdbdbd"/><rect x="550.62" y="343.60" width="2.10" height="2.65" fill="#1a3a2e"/><rect x="550.62" y="346.25" width="2.10" height="3.45" fill="#ffffff"/><rect x="554.18" y="373.30" width="2.10" height="47.70" fill="#2d6150"/><rect x="554.18" y="354.40" width="2.10" height="4.35" fill="#808080"/><rect x="554.18" y="358.75" width="2.10" height="5.10" fill="#1f4b3a"/><rect x="554.18" y="363.85" width="2.10" height="5.10" fill="#bdbdbd"/><rect x="554.18" y="368.95" width="2.10" height="1.89" fill="#1a3a2e"/><rect x="554.18" y="370.84" width="2.10" height="2.46" fill="#ffffff"/><rect x="557.74" y="355.00" width="2.10" height="66.00" fill="#2d6150"/><rect x="557.74" y="337.80" width="2.10" height="3.96" fill="#808080"/><rect x="557.74" y="341.76" width="2.10" height="4.64" fill="#1f4b3a"/><rect x="557.74" y="346.40" width="2.10" height="4.64" fill="#bdbdbd"/><rect x="557.74" y="351.04" width="2.10" height="1.72" fill="#1a3a2e"/><rect x="557.74" y="352.76" width="2.10" height="2.24" fill="#ffffff"/><rect x="561.30" y="321.90" width="2.10" height="99.10" fill="#2d6150"/><rect x="561.30" y="296.00" width="2.10" height="5.96" fill="#808080"/><rect x="561.30" y="301.96" width="2.10" height="8.29" fill="#1f4b3a"/><rect x="561.30" y="310.25" width="2.10" height="6.22" fill="#bdbdbd"/><rect x="561.30" y="316.46" width="2.10" height="2.59" fill="#1a3a2e"/><rect x="561.30" y="319.05" width="2.10" height="2.85" fill="#ffffff"/><rect x="564.86" y="334.60" width="2.10" height="86.40" fill="#2d6150"/><rect x="564.86" y="310.90" width="2.10" height="5.45" fill="#808080"/><rect x="564.86" y="316.35" width="2.10" height="7.58" fill="#1f4b3a"/><rect x="564.86" y="323.94" width="2.10" height="5.69" fill="#bdbdbd"/><rect x="564.86" y="329.62" width="2.10" height="2.37" fill="#1a3a2e"/><rect x="564.86" y="331.99" width="2.10" height="2.61" fill="#ffffff"/><rect x="568.42" y="328.60" width="2.10" height="92.40" fill="#2d6150"/><rect x="568.42" y="302.00" width="2.10" height="6.12" fill="#808080"/><rect x="568.42" y="308.12" width="2.10" height="8.51" fill="#1f4b3a"/><rect x="568.42" y="316.63" width="2.10" height="6.38" fill="#bdbdbd"/><rect x="568.42" y="323.01" width="2.10" height="2.66" fill="#1a3a2e"/><rect x="568.42" y="325.67" width="2.10" height="2.93" fill="#ffffff"/><rect x="571.97" y="333.70" width="2.10" height="87.30" fill="#2d6150"/><rect x="571.97" y="309.00" width="2.10" height="5.68" fill="#808080"/><rect x="571.97" y="314.68" width="2.10" height="7.90" fill="#1f4b3a"/><rect x="571.97" y="322.58" width="2.10" height="5.93" fill="#bdbdbd"/><rect x="571.97" y="328.51" width="2.10" height="2.47" fill="#1a3a2e"/><rect x="571.97" y="330.98" width="2.10" height="2.72" fill="#ffffff"/><rect x="575.53" y="334.60" width="2.10" height="86.40" fill="#2d6150"/><rect x="575.53" y="309.00" width="2.10" height="5.89" fill="#808080"/><rect x="575.53" y="314.89" width="2.10" height="8.19" fill="#1f4b3a"/><rect x="575.53" y="323.08" width="2.10" height="6.14" fill="#bdbdbd"/><rect x="575.53" y="329.22" width="2.10" height="2.56" fill="#1a3a2e"/><rect x="575.53" y="331.78" width="2.10" height="2.82" fill="#ffffff"/><rect x="579.09" y="319.70" width="2.10" height="101.30" fill="#2d6150"/><rect x="579.09" y="291.90" width="2.10" height="6.39" fill="#808080"/><rect x="579.09" y="298.29" width="2.10" height="8.90" fill="#1f4b3a"/><rect x="579.09" y="307.19" width="2.10" height="6.67" fill="#bdbdbd"/><rect x="579.09" y="313.86" width="2.10" height="2.78" fill="#1a3a2e"/><rect x="579.09" y="316.64" width="2.10" height="3.06" fill="#ffffff"/><rect x="582.65" y="292.60" width="2.10" height="128.40" fill="#2d6150"/><rect x="582.65" y="267.30" width="2.10" height="5.82" fill="#808080"/><rect x="582.65" y="273.12" width="2.10" height="8.10" fill="#1f4b3a"/><rect x="582.65" y="281.22" width="2.10" height="6.07" fill="#bdbdbd"/><rect x="582.65" y="287.29" width="2.10" height="2.53" fill="#1a3a2e"/><rect x="582.65" y="289.82" width="2.10" height="2.78" fill="#ffffff"/><rect x="586.21" y="273.00" width="2.10" height="148.00" fill="#2d6150"/><rect x="586.21" y="244.90" width="2.10" height="6.46" fill="#808080"/><rect x="586.21" y="251.36" width="2.10" height="8.99" fill="#1f4b3a"/><rect x="586.21" y="260.36" width="2.10" height="6.74" fill="#bdbdbd"/><rect x="586.21" y="267.10" width="2.10" height="2.81" fill="#1a3a2e"/><rect x="586.21" y="269.91" width="2.10" height="3.09" fill="#ffffff"/><rect x="589.77" y="263.60" width="2.10" height="157.40" fill="#2d6150"/><rect x="589.77" y="234.60" width="2.10" height="6.67" fill="#808080"/><rect x="589.77" y="241.27" width="2.10" height="9.28" fill="#1f4b3a"/><rect x="589.77" y="250.55" width="2.10" height="6.96" fill="#bdbdbd"/><rect x="589.77" y="257.51" width="2.10" height="2.90" fill="#1a3a2e"/><rect x="589.77" y="260.41" width="2.10" height="3.19" fill="#ffffff"/><rect x="593.33" y="274.80" width="2.10" height="146.20" fill="#2d6150"/><rect x="593.33" y="248.70" width="2.10" height="6.00" fill="#808080"/><rect x="593.33" y="254.70" width="2.10" height="8.35" fill="#1f4b3a"/><rect x="593.33" y="263.06" width="2.10" height="6.26" fill="#bdbdbd"/><rect x="593.33" y="269.32" width="2.10" height="2.61" fill="#1a3a2e"/><rect x="593.33" y="271.93" width="2.10" height="2.87" fill="#ffffff"/><rect x="596.89" y="288.00" width="2.10" height="133.00" fill="#2d6150"/><rect x="596.89" y="264.00" width="2.10" height="5.52" fill="#808080"/><rect x="596.89" y="269.52" width="2.10" height="7.68" fill="#1f4b3a"/><rect x="596.89" y="277.20" width="2.10" height="5.76" fill="#bdbdbd"/><rect x="596.89" y="282.96" width="2.10" height="2.40" fill="#1a3a2e"/><rect x="596.89" y="285.36" width="2.10" height="2.64" fill="#ffffff"/><rect x="600.45" y="280.20" width="2.10" height="140.80" fill="#2d6150"/><rect x="600.45" y="255.80" width="2.10" height="5.61" fill="#808080"/><rect x="600.45" y="261.41" width="2.10" height="7.81" fill="#1f4b3a"/><rect x="600.45" y="269.22" width="2.10" height="5.86" fill="#bdbdbd"/><rect x="600.45" y="275.08" width="2.10" height="2.44" fill="#1a3a2e"/><rect x="600.45" y="277.52" width="2.10" height="2.68" fill="#ffffff"/><rect x="604.01" y="303.30" width="2.10" height="117.70" fill="#2d6150"/><rect x="604.01" y="285.80" width="2.10" height="4.03" fill="#808080"/><rect x="604.01" y="289.82" width="2.10" height="5.60" fill="#1f4b3a"/><rect x="604.01" y="295.43" width="2.10" height="4.20" fill="#bdbdbd"/><rect x="604.01" y="299.62" width="2.10" height="1.75" fill="#1a3a2e"/><rect x="604.01" y="301.38" width="2.10" height="1.93" fill="#ffffff"/><rect x="607.56" y="282.00" width="2.10" height="139.00" fill="#2d6150"/><rect x="607.56" y="258.80" width="2.10" height="4.87" fill="#808080"/><rect x="607.56" y="263.67" width="2.10" height="7.19" fill="#1f4b3a"/><rect x="607.56" y="270.86" width="2.10" height="5.57" fill="#bdbdbd"/><rect x="607.56" y="276.43" width="2.10" height="3.48" fill="#1a3a2e"/><rect x="607.56" y="279.91" width="2.10" height="2.09" fill="#ffffff"/><rect x="611.12" y="221.30" width="2.10" height="199.70" fill="#2d6150"/><rect x="611.12" y="191.00" width="2.10" height="6.36" fill="#808080"/><rect x="611.12" y="197.36" width="2.10" height="9.39" fill="#1f4b3a"/><rect x="611.12" y="206.76" width="2.10" height="7.27" fill="#bdbdbd"/><rect x="611.12" y="214.03" width="2.10" height="4.55" fill="#1a3a2e"/><rect x="611.12" y="218.57" width="2.10" height="2.73" fill="#ffffff"/><rect x="614.68" y="274.90" width="2.10" height="146.10" fill="#2d6150"/><rect x="614.68" y="251.10" width="2.10" height="5.00" fill="#808080"/><rect x="614.68" y="256.10" width="2.10" height="7.38" fill="#1f4b3a"/><rect x="614.68" y="263.48" width="2.10" height="5.71" fill="#bdbdbd"/><rect x="614.68" y="269.19" width="2.10" height="3.57" fill="#1a3a2e"/><rect x="614.68" y="272.76" width="2.10" height="2.14" fill="#ffffff"/><rect x="618.24" y="291.50" width="2.10" height="129.50" fill="#2d6150"/><rect x="618.24" y="270.80" width="2.10" height="4.35" fill="#808080"/><rect x="618.24" y="275.15" width="2.10" height="6.42" fill="#1f4b3a"/><rect x="618.24" y="281.56" width="2.10" height="4.97" fill="#bdbdbd"/><rect x="618.24" y="286.53" width="2.10" height="3.10" fill="#1a3a2e"/><rect x="618.24" y="289.64" width="2.10" height="1.86" fill="#ffffff"/><rect x="621.80" y="285.00" width="2.10" height="136.00" fill="#2d6150"/><rect x="621.80" y="263.70" width="2.10" height="4.47" fill="#808080"/><rect x="621.80" y="268.17" width="2.10" height="6.60" fill="#1f4b3a"/><rect x="621.80" y="274.78" width="2.10" height="5.11" fill="#bdbdbd"/><rect x="621.80" y="279.89" width="2.10" height="3.20" fill="#1a3a2e"/><rect x="621.80" y="283.08" width="2.10" height="1.92" fill="#ffffff"/><rect x="625.36" y="292.00" width="2.10" height="129.00" fill="#2d6150"/><rect x="625.36" y="270.60" width="2.10" height="4.49" fill="#808080"/><rect x="625.36" y="275.09" width="2.10" height="6.63" fill="#1f4b3a"/><rect x="625.36" y="281.73" width="2.10" height="5.14" fill="#bdbdbd"/><rect x="625.36" y="286.86" width="2.10" height="3.21" fill="#1a3a2e"/><rect x="625.36" y="290.07" width="2.10" height="1.93" fill="#ffffff"/><rect x="628.92" y="322.00" width="2.10" height="99.00" fill="#2d6150"/><rect x="628.92" y="305.30" width="2.10" height="3.51" fill="#808080"/><rect x="628.92" y="308.81" width="2.10" height="5.18" fill="#1f4b3a"/><rect x="628.92" y="313.98" width="2.10" height="4.01" fill="#bdbdbd"/><rect x="628.92" y="317.99" width="2.10" height="2.50" fill="#1a3a2e"/><rect x="628.92" y="320.50" width="2.10" height="1.50" fill="#ffffff"/><rect x="632.48" y="343.00" width="2.10" height="78.00" fill="#2d6150"/><rect x="632.48" y="326.20" width="2.10" height="3.53" fill="#808080"/><rect x="632.48" y="329.73" width="2.10" height="5.21" fill="#1f4b3a"/><rect x="632.48" y="334.94" width="2.10" height="4.03" fill="#bdbdbd"/><rect x="632.48" y="338.97" width="2.10" height="2.52" fill="#1a3a2e"/><rect x="632.48" y="341.49" width="2.10" height="1.51" fill="#ffffff"/><rect x="636.04" y="288.20" width="2.10" height="132.80" fill="#2d6150"/><rect x="636.04" y="265.20" width="2.10" height="4.83" fill="#808080"/><rect x="636.04" y="270.03" width="2.10" height="7.13" fill="#1f4b3a"/><rect x="636.04" y="277.16" width="2.10" height="5.52" fill="#bdbdbd"/><rect x="636.04" y="282.68" width="2.10" height="3.45" fill="#1a3a2e"/><rect x="636.04" y="286.13" width="2.10" height="2.07" fill="#ffffff"/><rect x="639.60" y="308.10" width="2.10" height="112.90" fill="#2d6150"/><rect x="639.60" y="289.10" width="2.10" height="3.99" fill="#808080"/><rect x="639.60" y="293.09" width="2.10" height="5.89" fill="#1f4b3a"/><rect x="639.60" y="298.98" width="2.10" height="4.56" fill="#bdbdbd"/><rect x="639.60" y="303.54" width="2.10" height="2.85" fill="#1a3a2e"/><rect x="639.60" y="306.39" width="2.10" height="1.71" fill="#ffffff"/><rect x="643.15" y="256.80" width="2.10" height="164.20" fill="#2d6150"/><rect x="643.15" y="235.80" width="2.10" height="4.41" fill="#808080"/><rect x="643.15" y="240.21" width="2.10" height="6.51" fill="#1f4b3a"/><rect x="643.15" y="246.72" width="2.10" height="5.04" fill="#bdbdbd"/><rect x="643.15" y="251.76" width="2.10" height="3.15" fill="#1a3a2e"/><rect x="643.15" y="254.91" width="2.10" height="1.89" fill="#ffffff"/><rect x="646.71" y="243.90" width="2.10" height="177.10" fill="#2d6150"/><rect x="646.71" y="223.00" width="2.10" height="4.39" fill="#808080"/><rect x="646.71" y="227.39" width="2.10" height="6.48" fill="#1f4b3a"/><rect x="646.71" y="233.87" width="2.10" height="5.02" fill="#bdbdbd"/><rect x="646.71" y="238.88" width="2.10" height="3.14" fill="#1a3a2e"/><rect x="646.71" y="242.02" width="2.10" height="1.88" fill="#ffffff"/><rect x="650.27" y="245.20" width="2.10" height="175.80" fill="#2d6150"/><rect x="650.27" y="228.00" width="2.10" height="3.61" fill="#808080"/><rect x="650.27" y="231.61" width="2.10" height="5.33" fill="#1f4b3a"/><rect x="650.27" y="236.94" width="2.10" height="4.13" fill="#bdbdbd"/><rect x="650.27" y="241.07" width="2.10" height="2.58" fill="#1a3a2e"/><rect x="650.27" y="243.65" width="2.10" height="1.55" fill="#ffffff"/><rect x="653.83" y="303.80" width="2.10" height="117.20" fill="#2d6150"/><rect x="653.83" y="291.10" width="2.10" height="2.67" fill="#808080"/><rect x="653.83" y="293.77" width="2.10" height="3.94" fill="#1f4b3a"/><rect x="653.83" y="297.70" width="2.10" height="3.05" fill="#bdbdbd"/><rect x="653.83" y="300.75" width="2.10" height="1.90" fill="#1a3a2e"/><rect x="653.83" y="302.66" width="2.10" height="1.14" fill="#ffffff"/><rect x="657.39" y="268.70" width="2.10" height="152.30" fill="#2d6150"/><rect x="657.39" y="253.20" width="2.10" height="3.25" fill="#808080"/><rect x="657.39" y="256.45" width="2.10" height="4.80" fill="#1f4b3a"/><rect x="657.39" y="261.26" width="2.10" height="3.72" fill="#bdbdbd"/><rect x="657.39" y="264.98" width="2.10" height="2.32" fill="#1a3a2e"/><rect x="657.39" y="267.31" width="2.10" height="1.40" fill="#ffffff"/><rect x="660.95" y="194.10" width="2.10" height="226.90" fill="#2d6150"/><rect x="660.95" y="170.40" width="2.10" height="4.98" fill="#808080"/><rect x="660.95" y="175.38" width="2.10" height="7.35" fill="#1f4b3a"/><rect x="660.95" y="182.72" width="2.10" height="5.69" fill="#bdbdbd"/><rect x="660.95" y="188.41" width="2.10" height="3.55" fill="#1a3a2e"/><rect x="660.95" y="191.97" width="2.10" height="2.13" fill="#ffffff"/><rect x="664.51" y="247.00" width="2.10" height="174.00" fill="#2d6150"/><rect x="664.51" y="230.20" width="2.10" height="3.53" fill="#808080"/><rect x="664.51" y="233.73" width="2.10" height="5.21" fill="#1f4b3a"/><rect x="664.51" y="238.94" width="2.10" height="4.03" fill="#bdbdbd"/><rect x="664.51" y="242.97" width="2.10" height="2.52" fill="#1a3a2e"/><rect x="664.51" y="245.49" width="2.10" height="1.51" fill="#ffffff"/><rect x="668.07" y="244.20" width="2.10" height="176.80" fill="#2d6150"/><rect x="668.07" y="227.00" width="2.10" height="3.61" fill="#808080"/><rect x="668.07" y="230.61" width="2.10" height="5.33" fill="#1f4b3a"/><rect x="668.07" y="235.94" width="2.10" height="4.13" fill="#bdbdbd"/><rect x="668.07" y="240.07" width="2.10" height="2.58" fill="#1a3a2e"/><rect x="668.07" y="242.65" width="2.10" height="1.55" fill="#ffffff"/><rect x="671.63" y="259.80" width="2.10" height="161.20" fill="#2d6150"/><rect x="671.63" y="242.10" width="2.10" height="3.72" fill="#808080"/><rect x="671.63" y="245.82" width="2.10" height="5.49" fill="#1f4b3a"/><rect x="671.63" y="251.30" width="2.10" height="4.25" fill="#bdbdbd"/><rect x="671.63" y="255.55" width="2.10" height="2.66" fill="#1a3a2e"/><rect x="671.63" y="258.21" width="2.10" height="1.59" fill="#ffffff"/><rect x="675.19" y="269.00" width="2.10" height="152.00" fill="#2d6150"/><rect x="675.19" y="250.70" width="2.10" height="3.84" fill="#808080"/><rect x="675.19" y="254.54" width="2.10" height="5.67" fill="#1f4b3a"/><rect x="675.19" y="260.22" width="2.10" height="4.39" fill="#bdbdbd"/><rect x="675.19" y="264.61" width="2.10" height="2.75" fill="#1a3a2e"/><rect x="675.19" y="267.35" width="2.10" height="1.65" fill="#ffffff"/><rect x="678.74" y="322.00" width="2.10" height="99.00" fill="#2d6150"/><rect x="678.74" y="309.70" width="2.10" height="2.58" fill="#808080"/><rect x="678.74" y="312.28" width="2.10" height="3.81" fill="#1f4b3a"/><rect x="678.74" y="316.10" width="2.10" height="2.95" fill="#bdbdbd"/><rect x="678.74" y="319.05" width="2.10" height="1.85" fill="#1a3a2e"/><rect x="678.74" y="320.89" width="2.10" height="1.11" fill="#ffffff"/><rect x="682.30" y="313.20" width="2.10" height="107.80" fill="#2d6150"/><rect x="682.30" y="299.60" width="2.10" height="2.86" fill="#808080"/><rect x="682.30" y="302.46" width="2.10" height="4.22" fill="#1f4b3a"/><rect x="682.30" y="306.67" width="2.10" height="3.26" fill="#bdbdbd"/><rect x="682.30" y="309.94" width="2.10" height="2.04" fill="#1a3a2e"/><rect x="682.30" y="311.98" width="2.10" height="1.22" fill="#ffffff"/><rect x="685.86" y="262.60" width="2.10" height="158.40" fill="#2d6150"/><rect x="685.86" y="245.20" width="2.10" height="3.65" fill="#808080"/><rect x="685.86" y="248.85" width="2.10" height="5.39" fill="#1f4b3a"/><rect x="685.86" y="254.25" width="2.10" height="4.18" fill="#bdbdbd"/><rect x="685.86" y="258.42" width="2.10" height="2.61" fill="#1a3a2e"/><rect x="685.86" y="261.03" width="2.10" height="1.57" fill="#ffffff"/>
</g>
<path d="M89.8 421.0 L110.0 420.7 L134.6 420.1 L160.0 419.0 L178.0 418.1 L195.0 417.3 L210.9 416.2 L222.3 414.3 L240.0 411.5 L261.3 407.0 L286.6 402.8 L312.0 396.5 L330.0 393.1 L355.3 388.0 L380.6 381.9 L393.3 378.1 L411.0 373.7 L418.6 369.9 L430.0 366.1 L440.5 362.3 L456.9 355.3 L469.6 349.0 L478.4 341.4 L487.3 337.0 L500.0 326.8 L512.6 323.0 L518.0 320.4 L524.0 317.4 L528.7 314.7 L541.3 309.0 L557.8 300.7 L567.6 292.6 L573.0 289.8 L581.5 283.0 L592.9 270.6 L610.6 250.9 L618.5 240.6 L624.0 235.6 L627.5 231.3 L639.5 222.2 L645.7 214.8 L650.0 208.8 L658.0 202.4 L662.0 196.2 L668.2 188.2 L672.3 183.4 L675.5 179.0 L681.0 175.0 L687.1 169.9" fill="none" stroke="#f28a22" stroke-width="3" stroke-linejoin="round" stroke-linecap="butt"/>
</svg>
<div class="yl" style="top:153.2px">60.00K</div><div class="yl" style="top:212.2px">45.00K</div><div class="yl" style="top:279.0px">30.00K</div><div class="yl" style="top:347.2px"><span style="display:inline-block;transform:scaleX(.64);transform-origin:0 50%;margin-right:-2.3px">1</span>5.00K</div><div class="yl" style="top:413.8px">0.00</div><div class="yr" style="top:153.2px">2.60M</div><div class="yr" style="top:212.2px"><span style="display:inline-block;transform:scaleX(.64);transform-origin:0 50%;margin-right:-2.3px">1</span>.95M</div><div class="yr" style="top:279.0px"><span style="display:inline-block;transform:scaleX(.64);transform-origin:0 50%;margin-right:-2.3px">1</span>.30M</div><div class="yr" style="top:347.2px">650.00K</div><div class="yr" style="top:413.8px">0.00</div><div class="xl" style="left:49.7px">Oct 2025</div><div class="xl" style="left:170.7px">Nov 2025</div><div class="xl" style="left:291.5px">Dec 2025</div><div class="xl" style="left:412.5px">Jan 2026</div><div class="xl" style="left:533.5px">Feb 2026</div>
<div class="at" style="left:10.8px;top:307.3px;font-size:13.5px">Unique Traders</div>
<div class="at" style="left:762px;top:320px;font-size:13.65px">Cumulative Traders</div>
</div></body></html>
